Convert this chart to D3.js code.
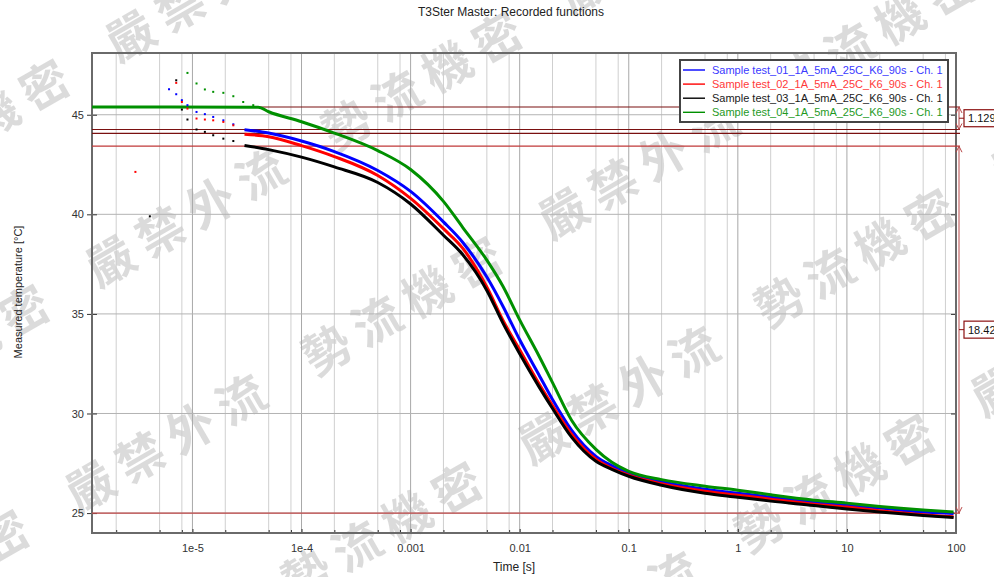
<!DOCTYPE html>
<html>
<head>
<meta charset="utf-8">
<script src="https://cdn.jsdelivr.net/npm/d3@7"></script>
<style>
  body { margin: 0; background: #fff; }
  svg { font-family: "Liberation Sans", Arial, sans-serif; }
</style>
</head>
<body>
<script>
'use strict';

// time axis [s] shared by series 01..03
const times = [3e-5, 5e-5, 1e-4, 2e-4, 5e-4, 1e-3, 2e-3, 3e-3, 5e-3, 7e-3, 1e-2, 1.5e-2, 2e-2, 3e-2, 5e-2, 7e-2, 0.1, 0.2, 0.5, 1, 2, 5, 10, 20, 50, 95];
const blueTemp  = [44.25, 44.08, 43.68, 43.15, 42.2, 41.15, 39.62, 38.6, 36.85, 35.4, 33.7, 31.95, 30.7, 29.15, 27.85, 27.38, 27.0, 26.57, 26.2, 26.0, 25.8, 25.55, 25.4, 25.25, 25.05, 24.98];
const redTemp   = [44.02, 43.9, 43.45, 42.9, 41.95, 40.8, 39.28, 38.3, 36.35, 34.7, 33.2, 31.5, 30.4, 28.95, 27.7, 27.25, 26.9, 26.47, 26.1, 25.9, 25.7, 25.45, 25.3, 25.12, 24.92, 24.82];
const blackTemp = [43.46, 43.25, 42.87, 42.38, 41.6, 40.52, 38.95, 37.98, 36.18, 34.55, 33.0, 31.35, 30.25, 28.8, 27.6, 27.2, 26.85, 26.4, 26.0, 25.8, 25.6, 25.38, 25.2, 25.05, 24.88, 24.78];
const greenTimes = [1.2e-6, 4e-5, 5e-5, 1e-4, 2e-4, 5e-4, 1e-3, 2e-3, 3e-3, 5e-3, 7e-3, 1e-2, 1.5e-2, 2e-2, 3e-2, 5e-2, 7e-2, 0.1, 0.2, 0.5, 1, 2, 5, 10, 20, 50, 95];
const greenTemp  = [45.39, 45.38, 45.15, 44.65, 44.08, 43.2, 42.25, 40.65, 39.35, 37.7, 36.4, 34.7, 32.9, 31.55, 29.65, 28.2, 27.55, 27.1, 26.68, 26.35, 26.15, 25.92, 25.65, 25.5, 25.33, 25.15, 25.05];

// early noisy samples [t, T]
const blueDots  = [[6.1e-6, 46.28], [7.1e-6, 46.03], [8e-6, 45.73], [9e-6, 45.48], [1.09e-5, 45.14], [1.3e-5, 45.03], [1.55e-5, 44.89], [1.92e-5, 44.72], [2.37e-5, 44.52]];
const redDots   = [[3e-6, 42.13], [7.1e-6, 46.6], [8e-6, 45.64], [9e-6, 45.31], [1.09e-5, 44.81], [1.3e-5, 44.76], [1.55e-5, 44.72], [1.92e-5, 44.64], [2.37e-5, 44.47]];
const blackDots = [[4.07e-6, 39.9], [7.1e-6, 46.73], [8e-6, 45.26], [9e-6, 44.76], [1.09e-5, 44.26], [1.3e-5, 44.14], [1.55e-5, 43.97], [1.92e-5, 43.8], [2.37e-5, 43.68]];
const greenDots = [[9e-6, 47.1], [1.09e-5, 46.57], [1.3e-5, 46.27], [1.55e-5, 46.15], [1.92e-5, 46.1], [2.37e-5, 45.93], [2.92e-5, 45.64], [3.61e-5, 45.48]];

const seriesNames = ["Sample test_01_1A_5mA_25C_K6_90s - Ch. 1", "Sample test_02_1A_5mA_25C_K6_90s - Ch. 1", "Sample test_03_1A_5mA_25C_K6_90s - Ch. 1", "Sample test_04_1A_5mA_25C_K6_90s - Ch. 1"];
const seriesColors = ["#0000ff", "#ff0000", "#000000", "#009000"];
const legendTextColors = ["#3a3aff", "#ff3a3a", "#1a1a1a", "#1f9a1f"];

const xMajor = [1e-5, 1e-4, 1e-3, 1e-2, 0.1, 1, 10, 100];
const xLabels = ["1e-5", "1e-4", "0.001", "0.01", "0.1", "1", "10", "100"];
const yTicks = [25, 30, 35, 40, 45];

// cursor lines and distances
const refLevels = [45.39, 44.26, 44.06, 43.42, 25.0];
const refColors = ["#7a1010", "#7a1010", "#7a1010", "#c03838", "#c04848"];
const dimFrom = [45.39, 43.42];
const dimTo = [44.26, 25.0];
const dimLabels = ["1.129", "18.42"];

const watermarkWords = ["勢流機密", "嚴禁外流"];

const width = 994, height = 577;
const plot = { left: 92, right: 956, top: 53, bottom: 533 };

const svg = d3.select("body").append("svg")
    .attr("width", width)
    .attr("height", height);

svg.append("rect").attr("width", width).attr("height", height).attr("fill", "#fff");

const x = d3.scaleLog().domain([1.2e-6, 100]).range([plot.left, plot.right]);
const y = d3.scaleLinear().domain([24, 48.1]).range([plot.bottom, plot.top]);

// watermark, rows along -30 deg
const wm = svg.append("g")
    .attr("transform", "rotate(-30)")
    .attr("fill", "#000")
    .attr("fill-opacity", 0.14)
    .style("font-family", "'Noto Sans CJK TC', 'Noto Sans CJK SC', sans-serif")
    .style("font-weight", "bold")
    .style("font-size", "48px")
    .style("letter-spacing", "10px");
const c30 = Math.cos(Math.PI / 6), s30 = 0.5;
function onScreen(u, v) {
    const sx = c30 * u + s30 * v, sy = -s30 * u + c30 * v;
    return sx > -30 && sx < width + 30 && sy > -30 && sy < height + 30;
}
for (let k = -3; k <= 3; k++) {
    for (let n = -6; n <= 6; n++) {
        const u = 108 - 130 * k + n * 273 - 24;
        const v = 467 + 185 * k;
        if (!onScreen(u, v) && !onScreen(u + 232, v)) continue;
        wm.append("text")
            .attr("x", u)
            .attr("y", v + 17)
            .text(watermarkWords[Math.abs(n) % 2]);
    }
}

// grid
const minor = [];
[1e-6, 1e-5, 1e-4, 1e-3, 1e-2, 0.1, 1, 10].forEach(function(dec) {
    [2, 5, 8].forEach(function(m) {
        const v = dec * m;
        if (v > 1.2e-6 && v < 100) minor.push(v);
    });
});

const grid = svg.append("g");
grid.selectAll(".vminor").data(minor).enter().append("line")
    .attr("x1", d => x(d)).attr("x2", d => x(d))
    .attr("y1", plot.top).attr("y2", plot.bottom)
    .attr("stroke", "#cfcfcf").attr("stroke-width", 1);
grid.selectAll(".vmajor").data(xMajor.slice(0, -1)).enter().append("line")
    .attr("x1", d => x(d)).attr("x2", d => x(d))
    .attr("y1", plot.top).attr("y2", plot.bottom)
    .attr("stroke", "#a8a8a8").attr("stroke-width", 1);
grid.selectAll(".hmajor").data(yTicks).enter().append("line")
    .attr("x1", plot.left).attr("x2", plot.right)
    .attr("y1", d => y(d)).attr("y2", d => y(d))
    .attr("stroke", "#b4b4b4").attr("stroke-width", 1);

// axes
svg.append("g")
    .attr("transform", "translate(0," + plot.bottom + ")")
    .call(d3.axisBottom(x).tickValues(xMajor).tickFormat((d, i) => xLabels[i]).tickSize(-4).tickPadding(11));
svg.append("g")
    .attr("transform", "translate(0," + plot.bottom + ")")
    .call(d3.axisBottom(x).tickValues(minor).tickFormat("").tickSize(-3));
svg.append("g")
    .attr("transform", "translate(" + plot.left + ",0)")
    .call(d3.axisLeft(y).tickValues(yTicks).tickSize(5).tickPadding(3));
svg.append("g")
    .attr("transform", "translate(" + plot.left + ",0)")
    .call(d3.axisLeft(y).tickValues(yTicks).tickSize(-5).tickFormat(""));
svg.append("g")
    .attr("transform", "translate(" + plot.right + ",0)")
    .call(d3.axisRight(y).tickValues(yTicks).tickSize(-5).tickFormat(""));
svg.selectAll(".domain").remove();
svg.selectAll(".tick line").attr("stroke", "#333");
svg.selectAll(".tick text")
    .attr("fill", "#333")
    .style("font-size", "11px")
    .style("font-family", "'Liberation Sans', Arial, sans-serif");

// frame
svg.append("rect")
    .attr("x", plot.left).attr("y", plot.top)
    .attr("width", plot.right - plot.left).attr("height", plot.bottom - plot.top)
    .attr("fill", "none").attr("stroke", "#6a6a6a").attr("stroke-width", 2);

// cursor lines
svg.selectAll(".ref").data(refLevels).enter().append("line")
    .attr("x1", plot.left).attr("x2", plot.right + 4)
    .attr("y1", d => y(d)).attr("y2", d => y(d))
    .attr("stroke", (d, i) => refColors[i]).attr("stroke-width", 1.2);

// data
svg.append("clipPath").attr("id", "clip").append("rect")
    .attr("x", plot.left).attr("y", plot.top)
    .attr("width", plot.right - plot.left).attr("height", plot.bottom - plot.top);
const dataG = svg.append("g").attr("clip-path", "url(#clip)");

const line = d3.line()
    .x(d => x(d[0]))
    .y(d => y(d[1]))
    .curve(d3.curveMonotoneX);

const lineData = [
    times.map((t, i) => [t, blueTemp[i]]),
    times.map((t, i) => [t, redTemp[i]]),
    times.map((t, i) => [t, blackTemp[i]]),
    greenTimes.map((t, i) => [t, greenTemp[i]])
];
const dotData = [blueDots, redDots, blackDots, greenDots];

lineData.forEach(function(data, i) {
    dataG.append("path")
        .datum(data)
        .attr("d", line)
        .attr("fill", "none")
        .attr("stroke", seriesColors[i])
        .attr("stroke-width", 3);
});
dotData.forEach(function(data, i) {
    dataG.selectAll(".dot" + i).data(data).enter().append("rect")
        .attr("x", d => x(d[0]) - 1)
        .attr("y", d => y(d[1]) - 1)
        .attr("width", 2).attr("height", 2)
        .attr("fill", seriesColors[i]);
});

// distance markers on the right
const dimX = plot.right + 3;
dimFrom.forEach(function(a, i) {
    const y0 = y(a), y1 = y(dimTo[i]);
    const g = svg.append("g").attr("stroke", "#b84848").attr("fill", "none").attr("stroke-width", 1);
    g.append("line").attr("x1", dimX).attr("x2", dimX).attr("y1", y0).attr("y2", y1);
    g.append("path").attr("d", "M" + (dimX - 3) + "," + (y0 + 6) + "L" + dimX + "," + y0 + "L" + (dimX + 3) + "," + (y0 + 6));
    g.append("path").attr("d", "M" + (dimX - 3) + "," + (y1 - 6) + "L" + dimX + "," + y1 + "L" + (dimX + 3) + "," + (y1 - 6));
    const mid = (y0 + y1) / 2;
    g.append("line").attr("x1", dimX).attr("x2", dimX + 5).attr("y1", mid).attr("y2", mid).attr("stroke", "#8b1010");
    svg.append("rect")
        .attr("x", dimX + 5).attr("y", mid - 8.5)
        .attr("width", 44).attr("height", 17)
        .attr("fill", "#fff").attr("stroke", "#8b1010").attr("stroke-width", 1.2);
    svg.append("text")
        .attr("x", dimX + 9).attr("y", mid + 4)
        .attr("fill", "#111")
        .style("font-size", "11px")
        .text(dimLabels[i]);
});

// legend
const legend = svg.append("g").attr("transform", "translate(680,60)");
legend.append("rect")
    .attr("width", 268).attr("height", 62)
    .attr("fill", "#fff").attr("stroke", "#444").attr("stroke-width", 2);
seriesNames.forEach(function(name, i) {
    const ly = 10 + i * 14.1;
    legend.append("line")
        .attr("x1", 3).attr("x2", 25)
        .attr("y1", ly).attr("y2", ly)
        .attr("stroke", seriesColors[i]).attr("stroke-width", 1.4);
    legend.append("text")
        .attr("x", 32).attr("y", ly + 4)
        .attr("fill", legendTextColors[i])
        .style("font-size", "11px")
        .text(name);
});

// titles
svg.append("text")
    .attr("x", 511).attr("y", 16)
    .attr("text-anchor", "middle")
    .attr("fill", "#222")
    .style("font-size", "12px")
    .text("T3Ster Master: Recorded functions");
svg.append("text")
    .attr("x", (plot.left + plot.right) / 2 - 10).attr("y", 571)
    .attr("text-anchor", "middle")
    .attr("fill", "#222")
    .style("font-size", "12px")
    .text("Time [s]");
svg.append("text")
    .attr("transform", "translate(22,292) rotate(-90)")
    .attr("text-anchor", "middle")
    .attr("fill", "#222")
    .style("font-size", "11px")
    .text("Measured temperature [°C]");
</script>
</body>
</html>
